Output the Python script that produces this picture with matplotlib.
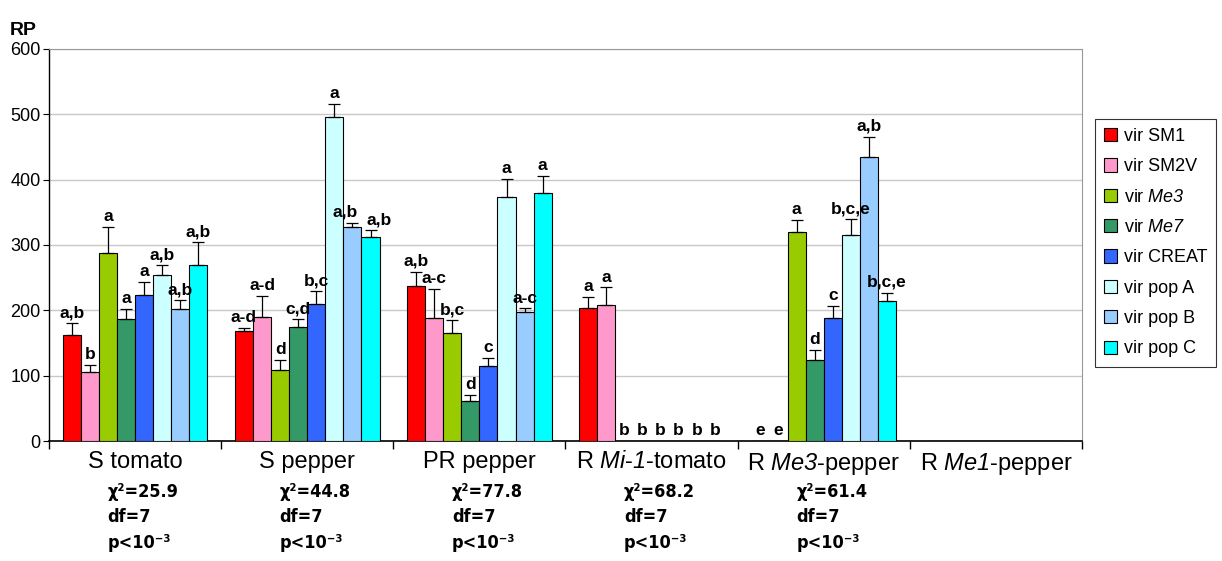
import matplotlib.pyplot as plt
import numpy as np
from matplotlib.patches import Patch

plt.rcParams['font.family'] = ['Liberation Sans', 'DejaVu Sans']
plt.rcParams['mathtext.fontset'] = 'custom'
# усе, що в $...$, пишемо курсивом
plt.rcParams['mathtext.rm'] = 'Liberation Sans:italic'
plt.rcParams['mathtext.it'] = 'Liberation Sans:italic'

# дані
categories = ['S tomato', 'S pepper', 'PR pepper', r'R $\mathrm{Mi}$-$\mathrm{1}$-tomato',
              r'R $\mathrm{Me3}$-pepper', r'R $\mathrm{Me1}$-pepper']
series = ['vir SM1', 'vir SM2V', r'vir $\mathrm{Me3}$', r'vir $\mathrm{Me7}$',
          'vir CREAT', 'vir pop A', 'vir pop B', 'vir pop C']
colors = ['#FF0000', '#FF99CC', '#99CC00', '#339966', '#3366FF', '#CCFFFF', '#99CCFF', '#00FFFF']

# значення RP: рядок = категорія, стовпець = серія
values = [
    [162, 106, 288, 186, 224, 254, 202, 270],
    [168, 190, 108, 174, 210, 496, 328, 312],
    [237, 189, 166, 61, 115, 374, 198, 379],
    [203, 208, 0, 0, 0, 0, 0, 0],
    [0, 0, 320, 124, 189, 316, 434, 215],
    [0, 0, 0, 0, 0, 0, 0, 0],
]
errors = [
    [18, 10, 40, 16, 19, 15, 14, 34],
    [5, 32, 16, 12, 19, 20, 6, 11],
    [22, 44, 19, 10, 12, 27, 5, 27],
    [18, 27, 0, 0, 0, 0, 0, 0],
    [0, 0, 18, 16, 18, 24, 32, 12],
    [0, 0, 0, 0, 0, 0, 0, 0],
]
letters = [
    ['a,b', 'b', 'a', 'a', 'a', 'a,b', 'a,b', 'a,b'],
    ['a-d', 'a-d', 'd', 'c,d', 'b,c', 'a', 'a,b', 'a,b'],
    ['a,b', 'a-c', 'b,c', 'd', 'c', 'a', 'a-c', 'a'],
    ['a', 'a', 'b', 'b', 'b', 'b', 'b', 'b'],
    ['e', 'e', 'a', 'd', 'c', 'b,c,e', 'a,b', 'b,c,e'],
    ['', '', '', '', '', '', '', ''],
]
chi2 = ['25.9', '44.8', '77.8', '68.2', '61.4', None]

values = np.array(values)
errors = np.array(errors)

fig = plt.figure(figsize=(12.22, 5.61), dpi=100)
ax = fig.add_axes([0.0401, 0.2139, 0.8453, 0.6988])

w = 0.105
for j in range(len(series)):
    x = np.arange(len(categories)) + 0.5 + (j - 3.5) * w
    ax.bar(x, values[:, j], w, color=colors[j], edgecolor='black', linewidth=0.8, zorder=3)
    for i in range(len(categories)):
        if errors[i, j] > 0:
            ax.errorbar(x[i], values[i, j], yerr=[[0], [errors[i, j]]], fmt='none',
                        ecolor='black', elinewidth=0.9, capsize=4, capthick=0.9, zorder=4)
        if letters[i][j]:
            # дві сусідні мітки "a,b" у S pepper трохи розсуваємо
            dx = 0
            if i == 1 and j == 6:
                dx = -5
            if i == 1 and j == 7:
                dx = 6
            ax.annotate(letters[i][j], (x[i], values[i, j] + errors[i, j]),
                        xytext=(dx, 2), textcoords='offset points', ha='center',
                        va='bottom', fontsize=12.5, fontweight='bold', zorder=5)

ax.set_xlim(0, 6)
ax.set_ylim(0, 600)
ax.set_yticks(range(0, 700, 100))
ax.tick_params(axis='y', labelsize=13, length=4, direction='out', pad=2)
ax.grid(axis='y', color='#c8c8c8', linewidth=1, zorder=0)
ax.set_xticks(np.arange(6) + 0.5)
ax.set_xticklabels(categories, fontsize=17)
ax.set_xticks(np.arange(7), minor=True)
ax.tick_params(axis='x', which='major', length=0, pad=7)
ax.tick_params(axis='x', which='minor', length=6, width=1)
for s in ['top', 'right']:
    ax.spines[s].set_color('#999999')
ax.spines['left'].set_linewidth(1)
ax.spines['bottom'].set_linewidth(1.2)

fig.text(0.008, 0.945, 'RP', fontsize=14, fontweight='bold', va='center')

# статистика під категоріями
trans = ax.get_xaxis_transform()
stat_font = dict(fontsize=13, fontweight='bold', fontstretch='condensed',
                 family='DejaVu Sans', va='center', transform=trans)
for i, c in enumerate(chi2):
    if c is None:
        continue
    xt = i + 0.5 - 0.16
    ax.text(xt, -0.13, 'χ²=' + c, **stat_font)
    ax.text(xt, -0.195, 'df=7', **stat_font)
    ax.text(xt, -0.26, 'p<10⁻³', **stat_font)

handles = [Patch(facecolor=c, edgecolor='black', linewidth=0.8) for c in colors]
leg = fig.legend(handles, series, loc='upper left', bbox_to_anchor=(0.896, 0.788),
                 fontsize=13, frameon=True, fancybox=False, edgecolor='black',
                 handlelength=0.75, handleheight=0.75, handletextpad=0.35,
                 labelspacing=0.74, borderpad=0.5, borderaxespad=0)
leg.get_frame().set_linewidth(0.8)

fig.savefig('out.png', dpi=100)
